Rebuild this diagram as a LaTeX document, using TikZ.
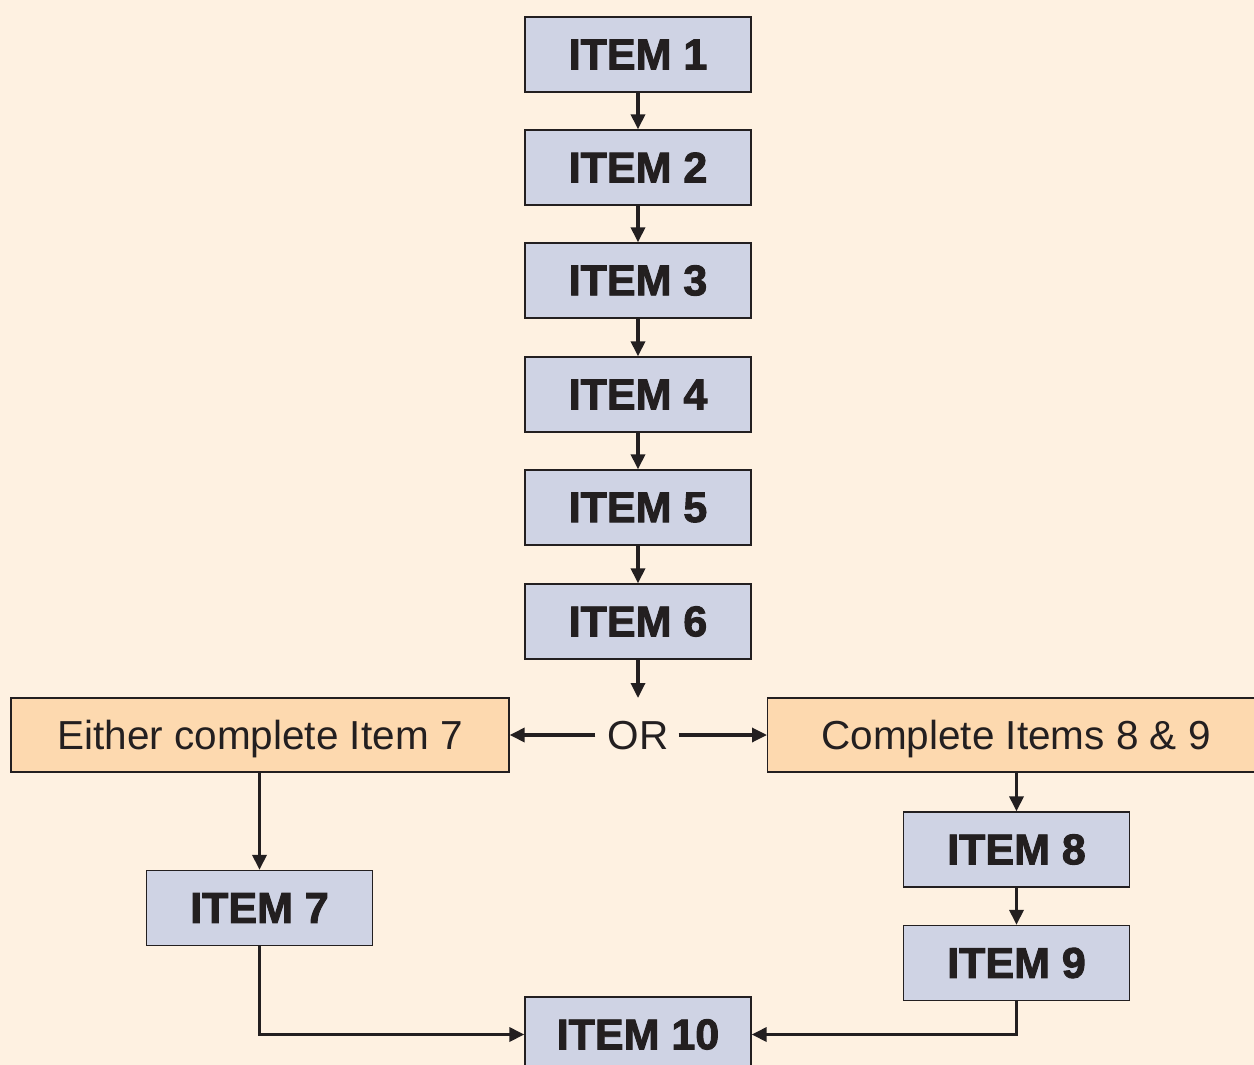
\documentclass[tikz,border=0pt]{standalone}
\usepackage{fontspec}
\setmainfont{Liberation Sans}
\newfontfamily\heavyfont[FakeBold=2.2]{Liberation Sans Bold}
\usetikzlibrary{arrows.meta}
\definecolor{bgcol}{HTML}{FEF1E1}
\definecolor{bluebox}{HTML}{CFD3E4}
\definecolor{orangebox}{HTML}{FDD9AF}
\definecolor{ink}{HTML}{231F20}
\begin{document}
\begin{tikzpicture}[x=1pt,y=-1pt,
  itembox/.style={draw=ink,line width=1.3pt,fill=bluebox,minimum width=226pt,minimum height=75pt,inner sep=0pt,
    font=\heavyfont\fontsize{43}{43}\selectfont,text=ink},
  choicebox/.style={draw=ink,line width=1.3pt,fill=orangebox,minimum height=74pt,inner sep=0pt,
    font=\fontsize{40.5}{40.5}\selectfont,text=ink,text depth=0pt},
  conn/.style={draw=ink,line width=3.3pt,-{Triangle[length=15pt,width=14pt]}}]
\useasboundingbox (0,0) rectangle (1254,1065);
\fill[bgcol] (0,0) rectangle (1254,1065);
\begin{scope}
\clip (0,0) rectangle (1254,1065);
\node[itembox] (i1) at (638,54.5) {ITEM 1};
\node[itembox] (i2) at (638,167.5) {ITEM 2};
\node[itembox] (i3) at (638,280.5) {ITEM 3};
\node[itembox] (i4) at (638,394.5) {ITEM 4};
\node[itembox] (i5) at (638,507.5) {ITEM 5};
\node[itembox] (i6) at (638,621.5) {ITEM 6};
\node[font=\fontsize{40.5}{40.5}\selectfont,text=ink,inner sep=0pt,text depth=0pt] (or) at (638,735) {OR};
\coordinate (ortop) at (638,698);
\node[choicebox,minimum width=498pt] (left) at (260,735) {Either complete Item 7};
\node[choicebox,minimum width=493pt,anchor=west] (right) at (767,735) {};
\node[font=\fontsize{40.5}{40.5}\selectfont,text=ink,text depth=0pt] (righttext) at (1016,735) {Complete Items 8 \& 9};
\node[itembox] (i7) at (259.5,908) {ITEM 7};
\node[itembox] (i8) at (1016.5,849.5) {ITEM 8};
\node[itembox] (i9) at (1016.5,963) {ITEM 9};
\node[itembox] (i10) at (638,1034.5) {ITEM 10};
\end{scope}
\draw[conn] (i1) -- (i2);
\draw[conn] (i2) -- (i3);
\draw[conn] (i3) -- (i4);
\draw[conn] (i4) -- (i5);
\draw[conn] (i5) -- (i6);
\draw[conn] (i6) -- (ortop);
\draw[conn] ([xshift=-12pt]or.west) -- (left.east);
\draw[conn] ([xshift=10pt]or.east) -- (right.west);
\draw[conn] (left.south -| i7.north) -- (i7.north);
\draw[conn] (right.south -| i8.north) -- (i8.north);
\draw[conn] (i8) -- (i9);
\draw[conn] (i7.south) |- (i10.west);
\draw[conn] (i9.south) |- (i10.east);
\end{tikzpicture}
\end{document}
